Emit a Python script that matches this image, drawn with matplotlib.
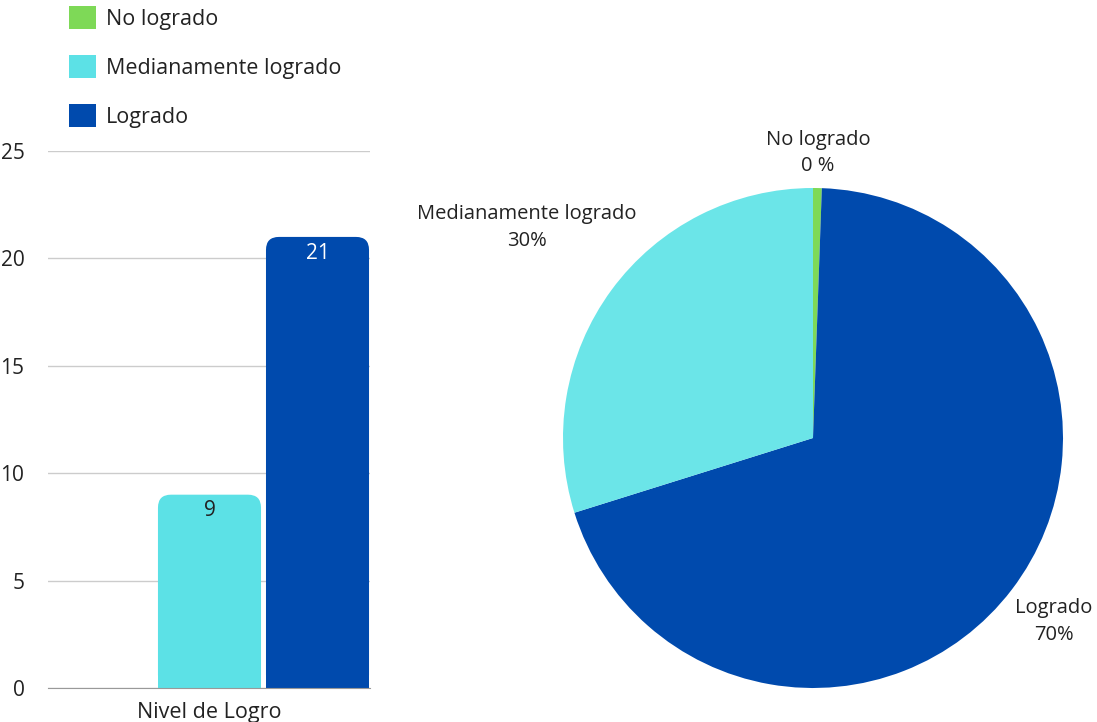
import numpy as np
import matplotlib.pyplot as plt
from matplotlib.patches import FancyBboxPatch, Rectangle

plt.rcParams['font.family'] = ['Open Sans', 'DejaVu Sans']

categorias = ['No logrado', 'Medianamente logrado', 'Logrado']
valores = [0, 9, 21]                      # recompte per nivell
# ordre del pastís (en sentit horari des de dalt)
pie_valors = [0.17, 21, 9]                # el sector verd es veu com una línia fina
pie_etiquetes = ['No logrado\n0 %', 'Logrado\n70%', 'Medianamente logrado\n30%']
colors_bar = ['#7ed957', '#5ce1e6', '#004aad']
colors_pie = ['#7ed957', '#004aad', '#6be5e8']
text_col = '#222222'

fig = plt.figure(figsize=(10.97, 7.22), dpi=100)

# --- barres ---
ax = fig.add_axes([48/1097, 1-688/722, 322/1097, 537/722])
x = np.array([-1, 0, 1])
w = 0.954
bars = ax.bar(x, valores, width=w, color=colors_bar)
ax.set_xlim(-1.495, 1.486)
ax.set_ylim(0, 25)
ax.set_yticks([0, 5, 10, 15, 20, 25])
asp = (25/537) / (2.981/322)             # relació unitats y / unitats x per píxel
for b, c in zip(bars, colors_bar):
    h = b.get_height()
    if h <= 0:
        continue
    b.set_visible(False)
    ax.add_patch(FancyBboxPatch((b.get_x(), 0), b.get_width(), h,
                                boxstyle='round,pad=0,rounding_size=0.12',
                                mutation_aspect=asp, fc=c, ec='none', zorder=2))
    ax.add_patch(Rectangle((b.get_x(), 0), b.get_width(), h/2, fc=c, ec='none', zorder=2))
for xi, v in zip(x, valores):
    if v > 0:
        ax.text(xi, v - 0.75, str(v), ha='center', va='center', fontsize=15,
                color='white' if v > 15 else text_col, zorder=3)
ax.grid(axis='y', color='#cccccc', lw=1)
ax.set_axisbelow(True)
for s in ['top', 'right', 'left']:
    ax.spines[s].set_visible(False)
ax.spines['bottom'].set_color('#999999')
ax.tick_params(axis='y', length=0, pad=17, labelsize=15, labelcolor=text_col)
ax.set_xticks([0])
ax.set_xticklabels(['Nivel de Logro'])
ax.tick_params(axis='x', length=0, pad=10, labelsize=15.5, labelcolor=text_col)

# --- llegenda ---
handles = [Rectangle((0, 0), 1, 1, fc=c) for c in colors_bar]
fig.legend(handles, categorias, loc='upper left', bbox_to_anchor=(50/1097, 1+13/722),
           frameon=False, fontsize=15.5, handlelength=1.25, handleheight=1.25,
           handletextpad=0.45, labelspacing=1.18, labelcolor=text_col)

# --- pastís ---
ax2 = fig.add_axes([563/1097, 1-688/722, 500/1097, 500/722])
wedges, _ = ax2.pie(pie_valors, colors=colors_pie, startangle=90, counterclock=False,
                    radius=1)
ax2.set_xlim(-1, 1)
ax2.set_ylim(-1, 1)
dist = [1.14, 1.21, 1.42]
for wd, lab, d in zip(wedges, pie_etiquetes, dist):
    ang = np.deg2rad((wd.theta1 + wd.theta2) / 2)
    ax2.text(d*np.cos(ang), d*np.sin(ang), lab, ha='center', va='center',
             fontsize=14.5, color=text_col, linespacing=1.45)

fig.savefig('out.png', dpi=100)
